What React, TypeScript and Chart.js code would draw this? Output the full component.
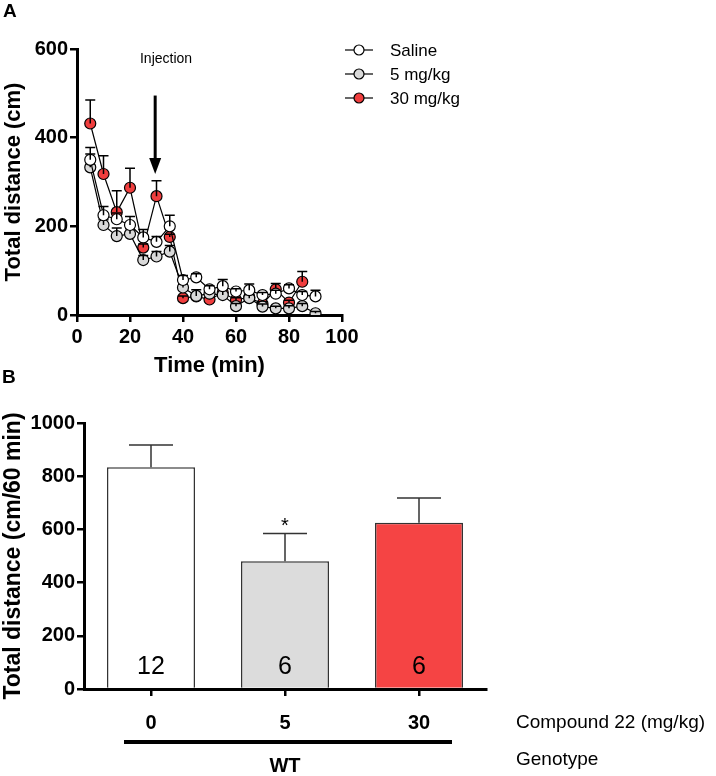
import React, { useEffect, useRef } from "react";
import { Chart, registerables } from "chart.js";
Chart.register(...registerables);

// ---------- Panel A data ----------
const timePoints = [5, 10, 15, 20, 25, 30, 35, 40, 45, 50, 55, 60, 65, 70, 75, 80, 85, 90];
const salineMean = [350, 225, 216, 203, 175, 165, 200, 79, 85, 58, 65, 53, 56, 45, 48, 60, 45, 42];
const salineSem = [28, 20, 14, 19, 18, 12, 25, 10, 8, 8, 15, 6, 14, 6, 8, 8, 8, 14];
const lowDoseMean = [333, 203, 178, 183, 124, 132, 143, 62, 43, 48, 45, 20, 38, 19, 15, 15, 20, 4];
const lowDoseSem = [30, 12, 18, 12, 10, 11, 14, 8, 14, 8, 13, 6, 8, 6, 5, 6, 6, 4];
const highDoseMean = [432, 318, 232, 287, 152, 268, 176, 38, 42, 35, 50, 34, 40, 25, 58, 28, 75, null];
const highDoseSem = [53, 41, 48, 44, 8, 35, 6, 5, 6, 5, 8, 5, 6, 5, 13, 5, 23, null];
const seriesNames = ["Saline", "5 mg/kg", "30 mg/kg"];
const seriesColors = ["#ffffff", "#d9d9d9", "#f03e3e"];
const timeTicks = [0, 20, 40, 60, 80, 100];
const distanceTicks = [0, 200, 400, 600];
const injectionTime = 29.5;
const injectionArrowFrom = 495;
const injectionArrowTo = 318;
const injectionLabel = "Injection";
const injectionLabelAt = { x: 33.6, y: 577 };

// ---------- Panel B data ----------
const doseLabels = ["0", "5", "30"];
const totalDistance = [834, 480, 625];
const totalDistanceSem = [83, 105, 93];
const groupN = ["12", "6", "6"];
const significance = ["", "*", ""];
const barColors = ["#ffffff", "#dcdcdc", "#f54444"];
const totalTicks = [0, 200, 400, 600, 800, 1000];

const FONT = "'Liberation Sans', Arial, Helvetica, sans-serif";

function ChartA() {
  const ref = useRef<HTMLCanvasElement>(null);
  useEffect(() => {
    const means = [salineMean, lowDoseMean, highDoseMean];
    const sems = [salineSem, lowDoseSem, highDoseSem];
    const errPlugin = {
      id: "errA",
      afterDatasetDraw(chart: any, args: any) {
        const { ctx } = chart;
        const yS = chart.scales.y;
        const i = args.index;
        const meta = args.meta;
        ctx.save();
        ctx.strokeStyle = "#000";
        ctx.lineWidth = 1.5;
        meta.data.forEach((pt: any, j: number) => {
          const m = means[i][j];
          const s = sems[i][j];
          if (m == null || s == null) return;
          const y0 = yS.getPixelForValue(m);
          const y1 = yS.getPixelForValue(m + s);
          ctx.beginPath();
          ctx.moveTo(pt.x, y0);
          ctx.lineTo(pt.x, y1);
          ctx.moveTo(pt.x - 5, y1);
          ctx.lineTo(pt.x + 5, y1);
          ctx.stroke();
        });
        ctx.restore();
      },
      afterDraw(chart: any) {
        const { ctx } = chart;
        const xS = chart.scales.x;
        const yS = chart.scales.y;
        ctx.save();
        ctx.fillStyle = "#000";
        ctx.font = `bold 19px ${FONT}`;
        ctx.textAlign = "left";
        ctx.textBaseline = "middle";
        ctx.fillText("A", 3, 12);
        ctx.font = `14px ${FONT}`;
        ctx.textAlign = "center";
        ctx.fillText(injectionLabel, xS.getPixelForValue(injectionLabelAt.x), yS.getPixelForValue(injectionLabelAt.y));
        const ax = xS.getPixelForValue(injectionTime);
        const ay0 = yS.getPixelForValue(injectionArrowFrom);
        const ay1 = yS.getPixelForValue(injectionArrowTo);
        ctx.strokeStyle = "#000";
        ctx.lineWidth = 3;
        ctx.beginPath();
        ctx.moveTo(ax, ay0);
        ctx.lineTo(ax, ay1 - 14);
        ctx.stroke();
        ctx.beginPath();
        ctx.moveTo(ax - 6, ay1 - 16);
        ctx.lineTo(ax + 6, ay1 - 16);
        ctx.lineTo(ax, ay1);
        ctx.closePath();
        ctx.fill();
        ctx.font = `17px ${FONT}`;
        ctx.textAlign = "left";
        seriesNames.forEach((name, k) => {
          const ly = 50 + k * 24;
          ctx.lineWidth = 1.2;
          ctx.beginPath();
          ctx.moveTo(345, ly);
          ctx.lineTo(373, ly);
          ctx.stroke();
          ctx.beginPath();
          ctx.arc(359, ly, 5, 0, Math.PI * 2);
          ctx.fillStyle = seriesColors[k];
          ctx.fill();
          ctx.stroke();
          ctx.fillStyle = "#000";
          ctx.fillText(name, 390, ly + 1);
        });
        ctx.restore();
      },
    };
    const chart = new Chart(ref.current!, {
      type: "line",
      data: {
        datasets: [salineMean, lowDoseMean, highDoseMean].map((arr, k) => ({
          label: seriesNames[k],
          data: timePoints.map((t, j) => ({ x: t, y: arr[j] })),
          borderColor: "#000",
          borderWidth: 1.2,
          pointRadius: 5.5,
          pointBorderWidth: 1.2,
          pointBorderColor: "#000",
          pointBackgroundColor: seriesColors[k],
          tension: 0,
          spanGaps: false,
        })),
      },
      options: {
        animation: false,
        responsive: false,
        maintainAspectRatio: false,
        events: [],
        layout: { padding: { left: 0, top: 49, right: 374, bottom: 0 } },
        plugins: { legend: { display: false }, tooltip: { enabled: false } },
        scales: {
          x: {
            type: "linear",
            min: 0,
            max: 100,
            afterBuildTicks: (s: any) => { s.ticks = timeTicks.map((v) => ({ value: v })); },
            ticks: { color: "#000", font: { family: FONT, size: 20, weight: "bold" }, padding: 3, maxRotation: 0, callback: (v: any) => String(v) },
            grid: { drawOnChartArea: false, drawTicks: true, tickLength: 7, color: "#000", lineWidth: 2.5 },
            border: { color: "#000", width: 3 },
            title: { display: true, text: "Time (min)", color: "#000", font: { family: FONT, size: 22, weight: "bold" }, padding: { top: 0, bottom: 11 } },
            afterFit: (s: any) => { s.height = 75; },
          },
          y: {
            min: 0,
            max: 600,
            afterBuildTicks: (s: any) => { s.ticks = distanceTicks.map((v) => ({ value: v })); },
            ticks: { color: "#000", font: { family: FONT, size: 20, weight: "bold" }, padding: 2, callback: (v: any) => String(v) },
            grid: { drawOnChartArea: false, drawTicks: true, tickLength: 7, color: "#000", lineWidth: 2.5 },
            border: { color: "#000", width: 3 },
            title: { display: true, text: "Total distance (cm)", color: "#000", font: { family: FONT, size: 22, weight: "bold" }, padding: { top: 1, bottom: 0 } },
            afterFit: (s: any) => { s.width = 77; },
          },
        },
      } as any,
      plugins: [errPlugin],
    });
    return () => chart.destroy();
  }, []);
  return <canvas ref={ref} width={716} height={390} style={{ position: "absolute", left: 0, top: 0 }} />;
}

function ChartB() {
  const ref = useRef<HTMLCanvasElement>(null);
  useEffect(() => {
    const plug = {
      id: "errB",
      afterDatasetsDraw(chart: any) {
        const { ctx } = chart;
        const yS = chart.scales.y;
        const meta = chart.getDatasetMeta(0);
        ctx.save();
        ctx.strokeStyle = "#333";
        ctx.lineWidth = 1.5;
        meta.data.forEach((bar: any, j: number) => {
          const y0 = yS.getPixelForValue(totalDistance[j]);
          const y1 = yS.getPixelForValue(totalDistance[j] + totalDistanceSem[j]);
          const hw = bar.width / 4;
          ctx.beginPath();
          ctx.moveTo(bar.x, y0);
          ctx.lineTo(bar.x, y1);
          ctx.moveTo(bar.x - hw, y1);
          ctx.lineTo(bar.x + hw, y1);
          ctx.stroke();
          ctx.fillStyle = "#000";
          ctx.textAlign = "center";
          if (significance[j]) {
            ctx.font = `20px ${FONT}`;
            ctx.textBaseline = "alphabetic";
            ctx.fillText(significance[j], bar.x, y1 - 1);
          }
          ctx.font = `25px ${FONT}`;
          ctx.textBaseline = "middle";
          ctx.fillText(groupN[j], bar.x, yS.getPixelForValue(0) - 22);
        });
        ctx.restore();
      },
      afterDraw(chart: any) {
        const { ctx } = chart;
        const xS = chart.scales.x;
        ctx.save();
        ctx.fillStyle = "#000";
        ctx.font = `bold 19px ${FONT}`;
        ctx.textAlign = "left";
        ctx.textBaseline = "middle";
        ctx.fillText("B", 2, 8);
        const left = xS.getPixelForValue(0) - 27;
        const right = xS.getPixelForValue(2) + 33;
        ctx.fillRect(left, 370, right - left, 4);
        ctx.font = `bold 20px ${FONT}`;
        ctx.textAlign = "center";
        ctx.fillText("WT", xS.getPixelForValue(1), 396);
        ctx.font = `19px ${FONT}`;
        ctx.textAlign = "left";
        ctx.fillText("Compound 22 (mg/kg)", 516, 353);
        ctx.fillText("Genotype", 516, 390);
        ctx.restore();
      },
    };
    const chart = new Chart(ref.current!, {
      type: "bar",
      data: {
        labels: doseLabels,
        datasets: [
          {
            data: totalDistance,
            backgroundColor: barColors,
            borderColor: "#333",
            borderWidth: 1.5,
            barPercentage: 0.657,
            categoryPercentage: 1,
          },
        ],
      },
      options: {
        animation: false,
        responsive: false,
        maintainAspectRatio: false,
        events: [],
        layout: { padding: { left: 0, top: 53, right: 230, bottom: 0 } },
        plugins: { legend: { display: false }, tooltip: { enabled: false } },
        scales: {
          x: {
            ticks: { color: "#000", font: { family: FONT, size: 20, weight: "bold" }, padding: 15 },
            grid: { offset: false, drawOnChartArea: false, drawTicks: true, tickLength: 7, color: "#000", lineWidth: 2.5 },
            border: { color: "#000", width: 3 },
            afterFit: (s: any) => { s.height = 87; },
          },
          y: {
            min: 0,
            max: 1000,
            afterBuildTicks: (s: any) => { s.ticks = totalTicks.map((v) => ({ value: v })); },
            ticks: { color: "#000", font: { family: FONT, size: 20, weight: "bold" }, padding: 2, callback: (v: any) => String(v) },
            grid: { drawOnChartArea: false, drawTicks: true, tickLength: 7, color: "#000", lineWidth: 2.5 },
            border: { color: "#000", width: 3 },
            title: { display: true, text: "Total distance (cm/60 min)", color: "#000", font: { family: FONT, size: 23, weight: "bold" }, padding: { top: 0, bottom: 0 } },
            afterFit: (s: any) => { s.width = 84; },
          },
        },
      } as any,
      plugins: [plug],
    });
    return () => chart.destroy();
  }, []);
  return <canvas ref={ref} width={716} height={406} style={{ position: "absolute", left: 0, top: 370 }} />;
}

export default function App() {
  return (
    <div style={{ position: "absolute", left: 0, top: 0, width: 716, height: 776, background: "#fff" }}>
      <ChartA />
      <ChartB />
    </div>
  );
}
